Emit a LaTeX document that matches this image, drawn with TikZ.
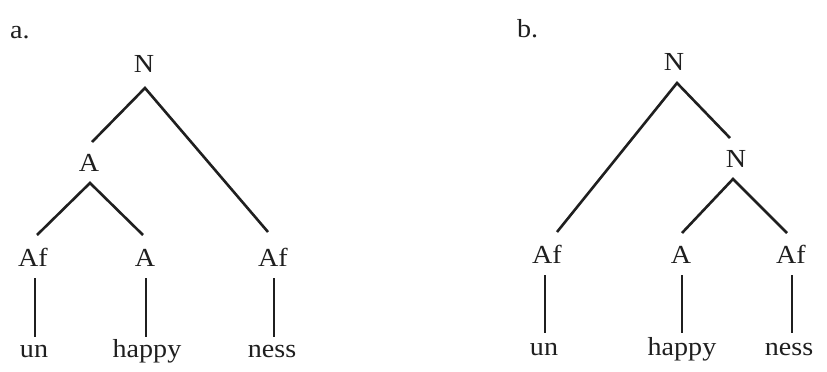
\documentclass[tikz,border=0pt]{standalone}
\usepackage{fontspec}
\setmainfont{Liberation Serif}[FakeStretch=1.08]
\begin{document}
\begin{tikzpicture}[x=1pt,y=-1pt,
  lab/.style={inner sep=0pt, anchor=base, font=\fontsize{26}{30}\selectfont, text=black!88},
  br/.style={line width=2.6pt, draw=black!88},
  vl/.style={line width=1.4pt, draw=black!88}]
\useasboundingbox[fill=white] (0,0) rectangle (827,372);
% labels
\node[lab, anchor=base west] (la) at (10,38) {a.};
\node[lab, anchor=base west] (lb) at (517,37) {b.};
% tree a
\node[lab] (Na) at (144,72) {N};
\node[lab] (Aa) at (89,171) {A};
\node[lab] (Afa1) at (33,266) {Af};
\node[lab] (Aa2) at (145,266) {A};
\node[lab] (Afa3) at (273,266) {Af};
\node[lab] (una) at (34,357) {un};
\node[lab] (hapa) at (147,357) {happy};
\node[lab] (nesa) at (272,357) {ness};
\draw[br] ([shift={(3pt,29pt)}]Aa.base) -- ([shift={(1pt,-16pt)}]Na.base) -- ([shift={(-5pt,34pt)}]Afa3.base);
\draw[br] ([shift={(4pt,31pt)}]Afa1.base) -- ([shift={(1pt,-12pt)}]Aa.base) -- ([shift={(-2pt,31pt)}]Aa2.base);
\draw[vl] ([shift={(2pt,-12pt)}]Afa1.base) -- ([shift={(2pt,-71pt)}]Afa1.base);
\draw[vl] ([shift={(1pt,-12pt)}]Aa2.base) -- ([shift={(1pt,-71pt)}]Aa2.base);
\draw[vl] ([shift={(1pt,-12pt)}]Afa3.base) -- ([shift={(1pt,-71pt)}]Afa3.base);
% tree b
\node[lab] (Nb) at (674,70) {N};
\node[lab] (Nb2) at (736,167) {N};
\node[lab] (Afb1) at (547,263) {Af};
\node[lab] (Ab) at (681,263) {A};
\node[lab] (Afb3) at (791,263) {Af};
\node[lab] (unb) at (544,355) {un};
\node[lab] (hapb) at (682,355) {happy};
\node[lab] (nesb) at (789,355) {ness};
\draw[br] ([shift={(10pt,31pt)}]Afb1.base) -- ([shift={(3pt,-13pt)}]Nb.base) -- ([shift={(-6pt,29pt)}]Nb2.base);
\draw[br] ([shift={(1pt,30pt)}]Ab.base) -- ([shift={(-3pt,-12pt)}]Nb2.base) -- ([shift={(-4pt,30pt)}]Afb3.base);
\draw[vl] ([shift={(-2pt,-12pt)}]Afb1.base) -- ([shift={(-2pt,-70pt)}]Afb1.base);
\draw[vl] ([shift={(1pt,-12pt)}]Ab.base) -- ([shift={(1pt,-70pt)}]Ab.base);
\draw[vl] ([shift={(1pt,-12pt)}]Afb3.base) -- ([shift={(1pt,-70pt)}]Afb3.base);
\end{tikzpicture}
\end{document}
